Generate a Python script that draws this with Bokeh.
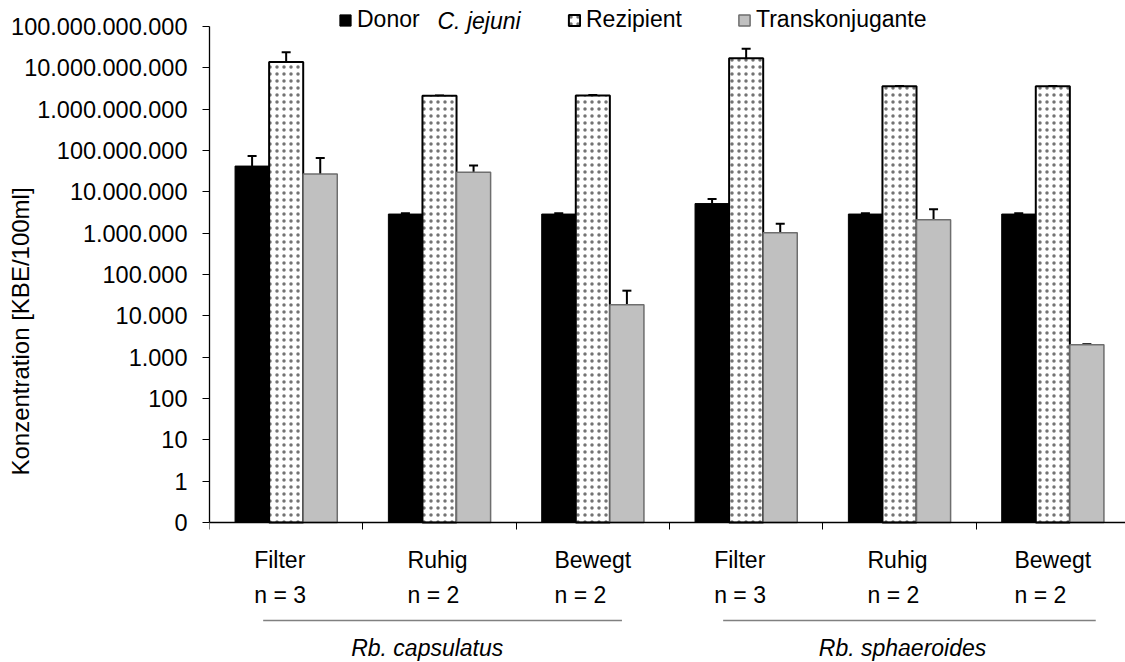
from bokeh.plotting import figure
from bokeh.models import (Range1d, FixedTicker, CustomJSTickFormatter, ColumnDataSource,
                          Whisker, TeeHead, Legend, LegendItem, Label, Arrow, LinearAxis)
from bokeh.embed import file_html
from bokeh.resources import INLINE

# ---- data ----
conditions = ["Filter", "Ruhig", "Bewegt", "Filter", "Ruhig", "Bewegt"]
n_labels = ["n = 3", "n = 2", "n = 2", "n = 3", "n = 2", "n = 2"]
groups = ["Rb. capsulatus", "Rb. sphaeroides"]
group_centers = [1.42, 4.52]
group_spans = [(0.35, 2.69), (3.35, 5.78)]

donor = [4.2e7, 2.9e6, 2.9e6, 5.2e6, 2.9e6, 2.9e6]
donor_err = [3.2e7, 1.5e5, 1.5e5, 1.5e6, 1.5e5, 1.5e5]
rezipient = [1.38e10, 2.1e9, 2.15e9, 1.7e10, 3.6e9, 3.6e9]
rezipient_err = [1.0e10, 4e7, 4e7, 1.2e10, 6e7, 6e7]
transkonj = [2.7e7, 2.96e7, 1.86e4, 1.03e6, 2.1e6, 2.0e3]
transkonj_err = [3.9e7, 1.4e7, 2.2e4, 0.67e6, 1.7e6, 60]

y_ticks = [10.0 ** k for k in range(-1, 12)]

FONT = "Liberation Sans"
FS_PX = 23
FS = f"{FS_PX}px"

# Arial/Liberation Sans advance widths (em) for the category words
ADV = {"F": .611, "i": .222, "l": .222, "t": .278, "e": .556, "r": .333, "R": .722,
       "u": .556, "h": .556, "g": .556, "B": .667, "w": .722}


def text_w(s):
    return sum(ADV.get(ch, .556) for ch in s) * FS_PX


# ---- layout geometry (pixels) ----
W, H = 1125, 662
left = 209
cat_px = 153.33
axis_top_px, axis_bot_px = 26, 522          # pixel rows of 1e11 and 0.1
dec_px = (axis_bot_px - axis_top_px) / 12.0


def py(ypix):
    """pixel row -> data value on the log axis"""
    return 10 ** (-1 - (ypix - axis_bot_px) / dec_px)


p = figure(width=W, height=H, output_backend="svg", toolbar_location=None,
           y_axis_type="log", x_axis_location=None,
           x_range=Range1d(0, (W - left) / cat_px),
           y_range=Range1d(py(H), py(0)),
           min_border_left=left, min_border_right=0, min_border_top=0,
           min_border_bottom=0)
p.outline_line_color = None
p.xgrid.visible = False
p.ygrid.visible = False
p.background_fill_color = "white"

bw = 1 / 4.5
xs = list(range(len(conditions)))
src = ColumnDataSource(dict(
    xd=[i + 0.5 - bw for i in xs], xr=[i + 0.5 for i in xs], xt=[i + 0.5 + bw for i in xs],
    donor=donor, rez=rezipient, trans=transkonj,
    donor_up=[v + e for v, e in zip(donor, donor_err)],
    rez_up=[v + e for v, e in zip(rezipient, rezipient_err)],
    trans_up=[v + e for v, e in zip(transkonj, transkonj_err)],
))

r_d = p.vbar(x="xd", top="donor", bottom=0.1, width=bw, source=src,
             fill_color="black", line_color="black", line_width=1)
r_r = p.vbar(x="xr", top="rez", bottom=0.1, width=bw, source=src,
             fill_color="white", line_color="black", line_width=2,
             hatch_pattern=".", hatch_color="black", hatch_alpha=0.55,
             hatch_scale=7, hatch_weight=1)
r_t = p.vbar(x="xt", top="trans", bottom=0.1, width=bw, source=src,
             fill_color="#C0C0C0", line_color="#6E6E6E", line_width=1.5)

for base, lo, up in [("xd", "donor", "donor_up"), ("xr", "rez", "rez_up"), ("xt", "trans", "trans_up")]:
    w = Whisker(source=src, base=base, lower=lo, upper=up, dimension="height",
                line_color="black", line_width=2,
                upper_head=TeeHead(size=9, line_color="black", line_width=2),
                lower_head=None)
    p.add_layout(w)

# ---- y axis ----
ya = p.yaxis[0]
ya.ticker = FixedTicker(ticks=y_ticks)
ya.bounds = (0.1, 1e11)
ya.formatter = CustomJSTickFormatter(code="""
if (tick < 0.5) { return "0"; }
var s = Math.round(tick).toString();
return s.replace(/\\B(?=(\\d{3})+(?!\\d))/g, ".");
""")
ya.major_label_text_font = FONT
ya.major_label_text_font_size = "23.5px"
ya.major_label_text_color = "black"
ya.major_tick_out = 7
ya.major_tick_in = 0
ya.minor_tick_out = 0
ya.minor_tick_in = 0
ya.major_label_standoff = 15
ya.axis_line_width = 1.3
ya.axis_line_color = "black"
ya.major_tick_line_color = "black"
ya.axis_label = "Konzentration [KBE/100ml]"
ya.axis_label_text_font = FONT
ya.axis_label_text_font_size = "24px"
ya.axis_label_text_font_style = "normal"
ya.axis_label_text_color = "black"
ya.axis_label_standoff = -26

# ---- x axis at y = 0.1 ----
xa = LinearAxis(fixed_location=0.1)
xa.ticker = FixedTicker(ticks=list(range(len(conditions) + 1)))
xa.formatter = CustomJSTickFormatter(code="return '';")
xa.major_tick_out = 7
xa.major_tick_in = 0
xa.minor_tick_out = 0
xa.minor_tick_in = 0
xa.axis_line_width = 1.3
xa.axis_line_color = "black"
xa.major_tick_line_color = "black"
p.add_layout(xa, "below")

# category labels (two-line block, left aligned, centred on the wider line)
for i, (c, n) in enumerate(zip(conditions, n_labels)):
    half = max(text_w(c), text_w(n)) / 2
    p.add_layout(Label(x=i + 0.5, y=py(559), text=c, x_offset=-half,
                       text_align="left", text_baseline="middle",
                       text_font=FONT, text_font_size=FS, text_color="black"))
    p.add_layout(Label(x=i + 0.5, y=py(594), text=n, x_offset=-half,
                       text_align="left", text_baseline="middle",
                       text_font=FONT, text_font_size=FS, text_color="black"))

# group labels and lines
for g, cx, (a, b) in zip(groups, group_centers, group_spans):
    p.add_layout(Label(x=cx, y=py(647), text=g,
                       text_align="center", text_baseline="middle",
                       text_font=FONT, text_font_size=FS, text_font_style="italic",
                       text_color="black"))
    p.add_layout(Arrow(x_start=a, y_start=py(620), x_end=b, y_end=py(620), end=None,
                       line_color="#808080", line_width=1.5))


# legend
def mk_legend(label, rend, xpix):
    lg = Legend(items=[LegendItem(label=label, renderers=[rend])],
                location=(xpix - left, H - 33),
                orientation="horizontal", glyph_width=14, glyph_height=14,
                label_standoff=5, padding=0, margin=0, spacing=0,
                border_line_color=None, background_fill_alpha=0,
                label_text_font=FONT, label_text_font_size=FS, label_height=26,
                label_text_color="black")
    p.add_layout(lg)


mk_legend("Donor", r_d, 338)
mk_legend("Rezipient", r_r, 567)
mk_legend("Transkonjugante", r_t, 737)
p.add_layout(Label(x=437 - left, y=py(20), x_units="screen", y_units="data", text="C. jejuni",
                   text_align="left", text_baseline="middle", text_font=FONT,
                   text_font_size=FS, text_font_style="italic", text_color="black"))

open("out.html", "w").write(file_html(p, INLINE))
